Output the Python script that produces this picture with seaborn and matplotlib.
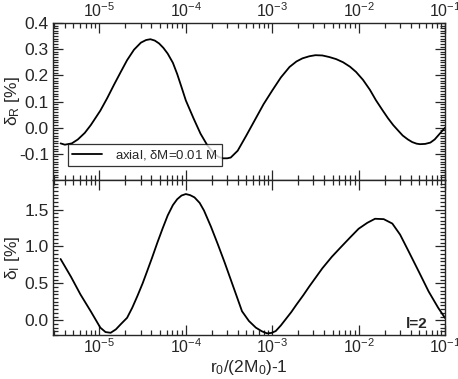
import numpy as np
import pandas as pd
import matplotlib
matplotlib.use("Agg")
import matplotlib.pyplot as plt
import seaborn as sns
from matplotlib.ticker import LogLocator, LogFormatterMathtext, MultipleLocator, NullFormatter

# log10 of r0/(2M0)-1 and the relative differences in percent
logx_R = [-5.45, -5.40, -5.32, -5.25, -5.17, -5.10, -4.99, -4.91, -4.83, -4.75,
          -4.68, -4.60, -4.52, -4.46, -4.41, -4.36, -4.31, -4.26, -4.21, -4.15,
          -4.10, -4.05, -4.00, -3.91, -3.83, -3.75, -3.67, -3.62, -3.57, -3.52,
          -3.48, -3.40, -3.30, -3.20, -3.10, -3.00, -2.90, -2.80, -2.72, -2.65,
          -2.57, -2.50, -2.42, -2.34, -2.26, -2.18, -2.10, -2.03, -1.95, -1.87,
          -1.80, -1.72, -1.66, -1.60, -1.54, -1.49, -1.43, -1.38, -1.33, -1.29,
          -1.23, -1.17, -1.12, -1.08, -1.04, -1.00]
delta_R = [-0.060, -0.065, -0.060, -0.045, -0.020, 0.010, 0.065, 0.113, 0.165, 0.215,
           0.258, 0.298, 0.325, 0.335, 0.338, 0.333, 0.322, 0.305, 0.283, 0.248,
           0.205, 0.155, 0.104, 0.035, -0.023, -0.068, -0.100, -0.112, -0.117, -0.117,
           -0.114, -0.088, -0.030, 0.030, 0.090, 0.142, 0.192, 0.232, 0.253, 0.265,
           0.273, 0.277, 0.276, 0.270, 0.262, 0.250, 0.233, 0.213, 0.183, 0.145,
           0.105, 0.065, 0.036, 0.010, -0.012, -0.030, -0.045, -0.055, -0.061, -0.063,
           -0.062, -0.057, -0.045, -0.030, -0.015, 0.000]

logx_I = [-5.45, -5.33, -5.22, -5.10, -4.99, -4.93, -4.87, -4.81, -4.75, -4.68,
          -4.62, -4.56, -4.50, -4.45, -4.39, -4.33, -4.27, -4.21, -4.15, -4.10,
          -4.05, -4.00, -3.95, -3.90, -3.84, -3.79, -3.71, -3.63, -3.55, -3.48,
          -3.41, -3.35, -3.27, -3.19, -3.12, -3.06, -3.01, -2.96, -2.90, -2.84,
          -2.78, -2.72, -2.64, -2.57, -2.49, -2.42, -2.31, -2.21, -2.10, -2.00,
          -1.90, -1.81, -1.71, -1.61, -1.52, -1.42, -1.30, -1.19, -1.08, -1.00]
delta_I = [0.830, 0.590, 0.350, 0.120, -0.100, -0.160, -0.170, -0.124, -0.050, 0.033,
           0.170, 0.330, 0.500, 0.658, 0.850, 1.050, 1.240, 1.420, 1.560, 1.640,
           1.690, 1.710, 1.695, 1.665, 1.590, 1.487, 1.270, 1.030, 0.780, 0.550,
           0.320, 0.122, -0.010, -0.100, -0.150, -0.178, -0.172, -0.147, -0.070, 0.020,
           0.110, 0.211, 0.340, 0.460, 0.590, 0.704, 0.860, 0.985, 1.120, 1.240,
           1.320, 1.375, 1.370, 1.310, 1.160, 0.930, 0.650, 0.390, 0.170, 0.030]

df_R = pd.DataFrame({"x": 10.0 ** np.array(logx_R), "d": delta_R})
df_I = pd.DataFrame({"x": 10.0 ** np.array(logx_I), "d": delta_I})

sns.set_style("ticks")
plt.rcParams["font.family"] = ["Liberation Sans", "DejaVu Sans"]
plt.rcParams["mathtext.fontset"] = "custom"
plt.rcParams["mathtext.rm"] = "Liberation Sans"
plt.rcParams["mathtext.it"] = "Liberation Sans"
plt.rcParams["mathtext.sf"] = "Liberation Sans"

fig = plt.figure(figsize=(4.58, 3.79), dpi=100)
ax1 = fig.add_axes([0.1157, 0.525, 0.856, 0.4143])
ax2 = fig.add_axes([0.1157, 0.1161, 0.856, 0.4089], sharex=ax1)

sns.lineplot(data=df_R, x="x", y="d", ax=ax1, color="black", lw=1.3,
             label="axial, $\\delta$M=0.01 M")
sns.lineplot(data=df_I, x="x", y="d", ax=ax2, color="black", lw=1.3, legend=False)

for ax in (ax1, ax2):
    ax.set_xscale("log")
    ax.set_xlim(2.9e-6, 0.1)
    ax.xaxis.set_major_locator(LogLocator(base=10, numticks=10))
    ax.xaxis.set_minor_locator(LogLocator(base=10, subs=np.arange(2, 10), numticks=20))
    ax.tick_params(which="both", direction="in", top=True, right=True,
                   labelsize=12.5, width=0.9, pad=3)
    ax.tick_params(axis="x", which="both", pad=2, labelsize=11.5)
    ax.tick_params(which="major", length=7)
    ax.tick_params(which="minor", length=3.5)
    for s in ax.spines.values():
        s.set_linewidth(1.0)
    ax.set_xlabel("")

ax1.set_ylim(-0.2, 0.4)
ax1.yaxis.set_minor_locator(MultipleLocator(0.01))
ax1.set_yticks([-0.1, 0.0, 0.1, 0.2, 0.3, 0.4])
ax1.set_yticklabels(["-0.1", "0.0", "0.1", "0.2", "0.3", "0.4"])
ax1.tick_params(axis="x", labeltop=True, labelbottom=False)
ax1.xaxis.set_major_formatter(LogFormatterMathtext())
ax1.xaxis.set_minor_formatter(NullFormatter())
ax1.set_ylabel("$\\delta_R$ [%]", fontsize=12.5)
ax1.yaxis.set_label_coords(-0.078, 0.5)

ax2.set_ylim(-0.2, 1.9)
ax2.set_yticks([0.0, 0.5, 1.0, 1.5])
ax2.set_yticklabels(["0.0", "0.5", "1.0", "1.5"])
ax2.yaxis.set_minor_locator(MultipleLocator(0.05))
ax2.tick_params(axis="x", labelbottom=True, labeltop=False)
ax2.xaxis.set_major_formatter(LogFormatterMathtext())
ax2.set_ylabel("$\\delta_I$ [%]", fontsize=12.5)
ax2.yaxis.set_label_coords(-0.078, 0.5)
ax2.set_xlabel("r$_0$/(2M$_0$)-1", fontsize=12.5, labelpad=1)
ax2.text(0.955, 0.07, "l=2", transform=ax2.transAxes, ha="right", va="center",
         fontsize=11, fontweight="bold")

leg = ax1.legend(loc="lower left", bbox_to_anchor=(0.038, 0.09), frameon=True,
                 fancybox=False, fontsize=9.5, handlelength=2.3, borderpad=0.3,
                 borderaxespad=0, handletextpad=1.0)
leg.get_frame().set_edgecolor("black")
leg.get_frame().set_linewidth(0.9)

fig.savefig("out.png", dpi=100)
